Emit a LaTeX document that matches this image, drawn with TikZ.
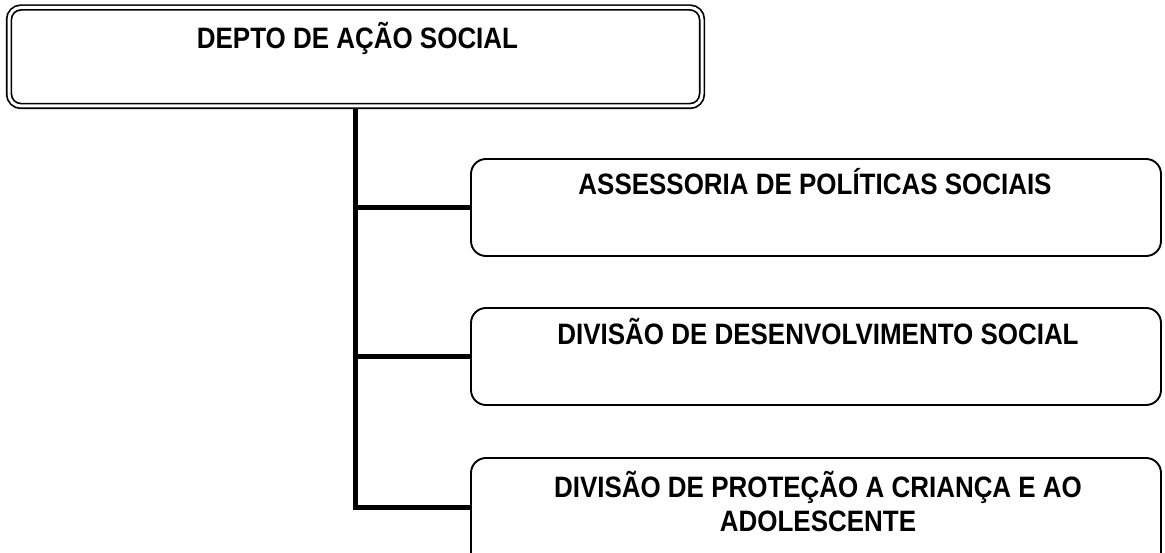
\documentclass[tikz,border=0pt]{standalone}
\usepackage{fontspec}
\newfontfamily\boxfont[FakeStretch=0.88]{Liberation Sans}
\begin{document}
\begin{tikzpicture}[x=1pt,y=-1pt,
  topbox/.style={draw, double, double distance=3pt, line width=1.7pt, rounded corners=12pt, rectangle, minimum width=693pt, minimum height=98.5pt, inner sep=0pt, outer sep=0pt},
  subbox/.style={draw, line width=1.9pt, rounded corners=15pt, rectangle, minimum width=690pt, minimum height=97pt, inner sep=0pt, outer sep=0pt},
  boxtext/.style={anchor=base, inner sep=0pt, align=center, font=\boxfont\bfseries\fontsize{29.5}{34}\selectfont},
  link/.style={line width=5.5pt}]
\useasboundingbox (0,0) rectangle (1165,553);
\node[topbox] (top) at (355.5,56.75) {};
\node[subbox] (b1) at (816,207.5) {};
\node[subbox] (b2) at (816,356.5) {};
\node[subbox, minimum height=110pt] (b3) at (816,513) {};
\node[boxtext] (t0) at (357.5,48.5) {DEPTO DE AÇÃO SOCIAL};
\node[boxtext] (t1) at (815,194.5) {ASSESSORIA DE POLÍTICAS SOCIAIS};
\node[boxtext] (t2) at (818,344.5) {DIVISÃO DE DESENVOLVIMENTO SOCIAL};
\node[boxtext] (t3) at (818,531) {DIVISÃO DE PROTEÇÃO A CRIANÇA E AO\\ADOLESCENTE};
\draw[link] ([yshift=-3pt]top.south) |- (b3.west |- 0,507.5);
\draw[link] (top.south |- b1.west) -- (b1.west);
\draw[link] (top.south |- b2.west) -- (b2.west);
\end{tikzpicture}
\end{document}
